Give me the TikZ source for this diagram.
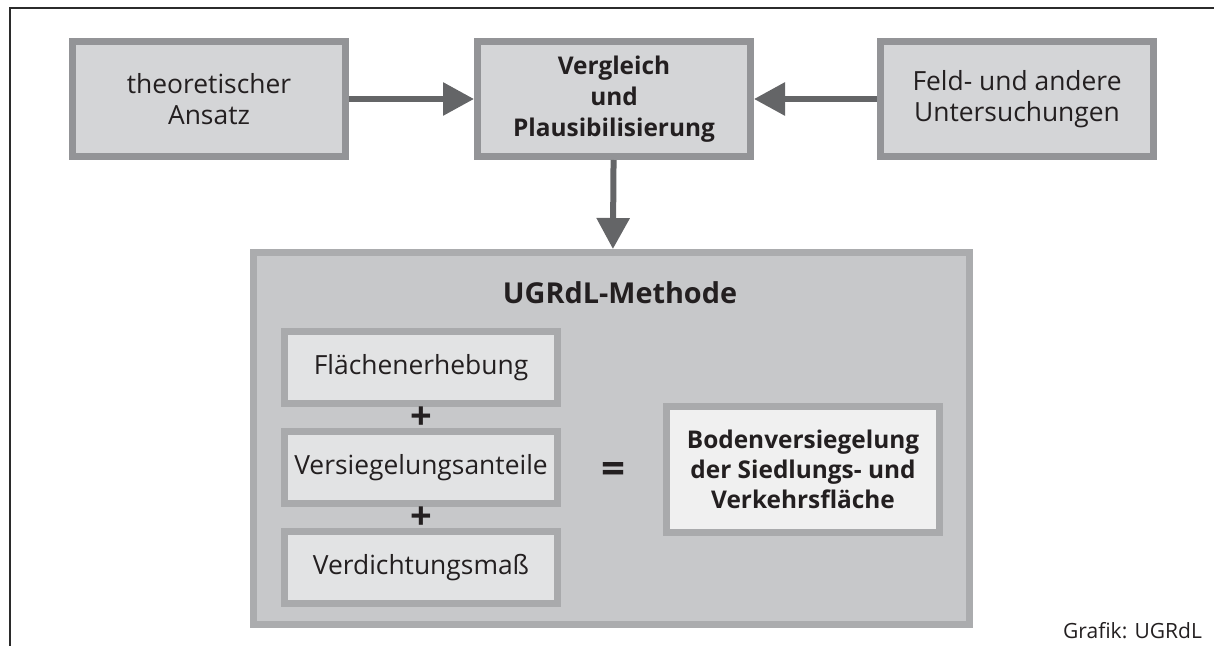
\documentclass[tikz,border=0pt]{standalone}
\usepackage{fontspec}
\setmainfont{Open Sans}
\usetikzlibrary{arrows.meta}

\definecolor{ink}{HTML}{231F20}
\definecolor{frameline}{HTML}{2B2B2B}
\definecolor{topfill}{HTML}{D4D5D7}
\definecolor{topline}{HTML}{939497}
\definecolor{bigfill}{HTML}{C7C8CA}
\definecolor{bigline}{HTML}{ABACAE}
\definecolor{partfill}{HTML}{E2E3E4}
\definecolor{partline}{HTML}{A9AAAC}
\definecolor{resultfill}{HTML}{F0F0F0}
\definecolor{arrowgray}{HTML}{646567}

\tikzset{
  topbox/.style={rectangle,draw=topline,fill=topfill,line width=3.5pt,
    minimum width=136.5pt,minimum height=57.5pt,inner sep=0pt,align=center,
    text=ink,font=\fontsize{13.2}{15.5}\selectfont},
  partbox/.style={rectangle,draw=partline,fill=partfill,line width=3.5pt,
    minimum width=136.5pt,minimum height=36pt,inner sep=0pt,align=center,
    text=ink,font=\fontsize{13.2}{15.5}\selectfont},
  bigarrow/.style={draw=arrowgray,line width=3pt,
    -{Triangle[length=15.5pt,width=16pt,fill=arrowgray]}}
}

\begin{document}
\begin{tikzpicture}[x=0.5pt,y=-0.5pt]
\useasboundingbox (0,0) rectangle (1214,646);

% frame
\draw[frameline,line width=1pt] (10,646) -- (10,8) -- (1214,8);

% theoretischer Ansatz node
\node[topbox] (theory) at (209,99) {theoretischer\\Ansatz};

% Vergleich node
\node[topbox,font=\bfseries\fontsize{12.2}{15.5}\selectfont] (compare) at (614,99) {Vergleich\\und\\Plausibilisierung};

% Feld- und andere Untersuchungen node
\node[topbox] (field) at (1017,99) {Feld- und andere\\Untersuchungen};

% UGRdL method node
\node[rectangle,draw=bigline,fill=bigfill,line width=3.5pt,
  minimum width=358pt,minimum height=186pt] (method) at (611.5,438.5) {};
\node[text=ink,font=\bfseries\fontsize{14.4}{16}\selectfont] (title) at (620,293) {UGRdL-Methode};

\draw[bigarrow] (theory) -- (compare);
\draw[bigarrow] (field) -- (compare);
\draw[bigarrow] (compare) -- (method);

% parts of the method
\node[partbox] (area) at (421,367.5) {Flächenerhebung};
\node[text=ink,font=\bfseries\fontsize{19}{19}\selectfont] (plus1) at (421,418) {+};
\node[partbox] (sealing) at (421,467.5) {Versiegelungsanteile};
\node[text=ink,font=\bfseries\fontsize{19}{19}\selectfont] (plus2) at (421,518) {+};
\node[partbox] (density) at (421,567.5) {Verdichtungsmaß};

% result node
\node[text=ink,font=\bfseries\fontsize{21}{22}\selectfont] (equals) at (613,473) {=};
\node[partbox,fill=resultfill,minimum height=63pt,
  font=\bfseries\fontsize{12.2}{15}\selectfont] (result) at (803,469.5)
  {Bodenversiegelung\\der Siedlungs- und\\Verkehrsfläche};

% source
\node[anchor=east,text=ink,font=\fontsize{10.5}{12}\selectfont] (credit) at (1209,631) {Grafik: UGRdL};

\end{tikzpicture}
\end{document}
